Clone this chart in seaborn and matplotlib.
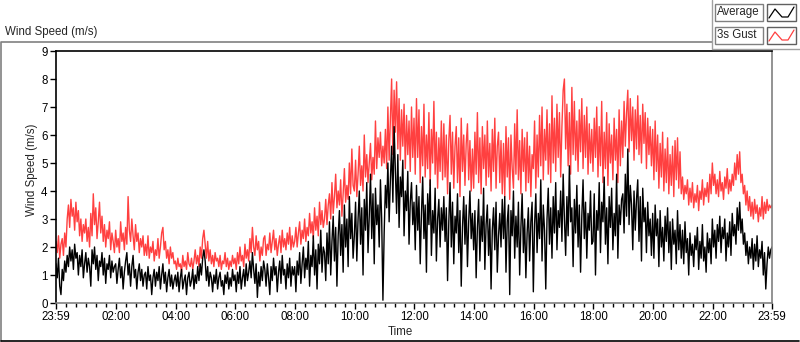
import numpy as np
import pandas as pd
import matplotlib
matplotlib.use("Agg")
import matplotlib.pyplot as plt
from matplotlib.patches import Rectangle
import seaborn as sns

# 2.5-minute samples, one row per hour starting 23:59
gust = [
    2.2, 1.8, 2.4, 1.6, 2.1, 2.3, 1.7, 2.5, 2.0, 3.0, 3.5, 2.7, 3.7, 3.1, 3.4, 2.6, 3.6, 2.9, 3.3, 2.4, 3.0, 2.2, 2.8, 2.5,
    3.0, 2.2, 2.7, 2.0, 3.2, 2.4, 3.9, 2.8, 3.4, 2.3, 2.9, 3.6, 2.5, 3.1, 2.2, 2.8, 2.0, 2.6, 2.3, 2.9, 1.9, 2.5, 2.2, 1.8,
    2.6, 2.0, 2.3, 1.8, 2.9, 2.2, 2.5, 1.9, 2.7, 2.1, 3.8, 2.6, 2.2, 3.0, 2.4, 1.9, 2.8, 2.2, 2.5, 1.8, 2.3, 2.0, 2.4, 1.7,
    2.1, 1.7, 2.4, 1.6, 2.0, 1.8, 2.2, 1.5, 1.9, 1.7, 2.3, 1.6, 2.0, 2.5, 2.7, 1.9, 2.2, 1.6, 1.9, 1.4, 2.0, 1.6, 1.8, 1.4,
    1.5, 1.2, 1.6, 1.3, 1.4, 1.1, 1.7, 1.3, 1.5, 1.2, 1.8, 1.4, 1.3, 1.6, 1.2, 1.5, 1.9, 1.4, 1.7, 1.3, 2.0, 1.6, 2.3, 2.6,
    2.1, 1.6, 2.2, 1.5, 1.9, 1.4, 1.7, 1.3, 1.8, 1.5, 1.6, 1.3, 1.7, 1.2, 1.5, 1.4, 1.8, 1.3, 1.6, 1.2, 1.5, 1.3, 1.7, 1.4,
    1.6, 1.2, 1.8, 1.4, 2.0, 1.5, 1.7, 1.3, 2.1, 1.6, 1.9, 1.5, 2.3, 1.8, 2.7, 2.0, 1.7, 2.4, 1.9, 2.2, 1.5, 2.0, 1.7, 2.3,
    2.4, 1.7, 2.1, 1.9, 2.5, 1.8, 2.2, 2.6, 1.9, 2.3, 1.7, 2.1, 2.4, 1.8, 2.6, 2.0, 2.3, 1.9, 2.5, 2.1, 2.7, 1.9, 2.4, 2.0,
    2.2, 2.7, 2.0, 2.5, 2.9, 2.1, 2.6, 2.3, 3.0, 2.2, 2.7, 2.4, 3.2, 2.5, 2.9, 2.3, 3.4, 2.6, 3.1, 2.4, 3.6, 2.8, 3.3, 2.7,
    3.0, 3.7, 2.8, 3.5, 3.9, 3.0, 4.3, 3.2, 3.8, 4.6, 3.4, 4.0, 3.5, 4.4, 3.1, 3.9, 4.8, 3.6, 4.2, 3.7, 5.0, 3.9, 5.5, 4.2,
    4.0, 5.1, 3.8, 4.6, 5.6, 4.2, 4.9, 4.0, 6.0, 4.5, 5.3, 4.3, 5.0, 5.7, 4.4, 5.2, 4.6, 6.5, 4.8, 5.9, 5.2, 6.1, 4.9, 5.6,
    5.0, 6.2, 4.8, 7.0, 5.1, 6.6, 8.0, 5.3, 7.6, 6.1, 7.9, 5.5, 7.3, 5.1, 6.9, 5.6, 7.1, 4.8, 6.7, 5.3, 6.5, 4.7, 7.0, 5.2,
    6.6, 4.6, 7.3, 5.2, 6.9, 4.3, 6.3, 4.9, 7.1, 4.5, 6.0, 4.8, 6.8, 4.2, 6.2, 5.0, 7.2, 4.6, 6.1, 4.1, 5.9, 4.7, 6.5, 4.4,
    6.4, 4.5, 6.0, 3.9, 5.8, 6.7, 4.6, 6.1, 4.1, 5.6, 6.3, 4.3, 5.9, 3.8, 6.6, 4.7, 6.0, 4.2, 5.7, 6.4, 4.4, 5.8, 4.0, 5.5,
    4.1, 6.1, 4.6, 6.8, 4.3, 5.9, 3.9, 6.3, 4.8, 6.0, 4.2, 6.5, 4.5, 5.7, 4.0, 6.2, 4.7, 6.6, 4.1, 5.6, 6.1, 4.3, 5.8, 3.9,
    5.7, 3.8, 6.3, 4.5, 5.9, 3.7, 6.0, 4.8, 4.1, 6.4, 4.6, 6.9, 4.4, 5.8, 3.9, 6.2, 4.7, 5.9, 4.0, 6.1, 4.3, 5.6, 3.8, 5.3,
    4.8, 6.5, 4.1, 6.0, 4.5, 6.7, 4.9, 7.0, 4.4, 6.2, 5.1, 6.9, 4.6, 6.4, 4.3, 7.4, 5.0, 6.6, 4.7, 7.1, 5.2, 6.8, 4.5, 6.3,
    7.6, 8.0, 5.5, 7.1, 4.9, 6.8, 4.6, 7.7, 5.3, 7.2, 5.1, 6.5, 4.7, 6.9, 5.4, 7.3, 4.8, 6.7, 5.2, 7.0, 4.6, 6.4, 5.0, 6.2,
    4.7, 6.6, 5.2, 7.0, 4.5, 6.3, 4.9, 7.2, 4.3, 6.1, 4.8, 6.8, 4.2, 6.4, 5.0, 6.0, 4.4, 6.6, 5.1, 6.2, 4.3, 6.9, 4.9, 6.5,
    5.2, 7.2, 5.6, 6.8, 7.6, 5.4, 7.3, 5.8, 7.0, 5.1, 6.9, 5.5, 7.4, 5.3, 6.7, 5.0, 7.1, 5.7, 6.8, 4.8, 6.6, 5.3, 6.3, 4.9,
    6.2, 4.4, 6.5, 4.7, 6.0, 4.1, 5.7, 4.5, 6.1, 4.0, 5.5, 4.3, 5.9, 3.9, 5.3, 4.2, 5.6, 3.8, 5.8, 4.4, 5.9, 4.1, 5.4, 3.9,
    4.5, 3.7, 4.2, 3.9, 4.4, 3.5, 4.1, 3.6, 4.3, 3.4, 3.9, 3.6, 4.2, 3.3, 4.0, 3.7, 4.4, 3.5, 4.1, 3.8, 4.3, 3.6, 4.6, 3.9,
    5.0, 4.2, 4.6, 3.9, 4.4, 3.8, 4.7, 4.0, 4.3, 3.7, 4.5, 4.1, 4.8, 3.9, 4.4, 4.0, 4.6, 4.2, 5.0, 4.4, 5.3, 4.6, 5.4, 4.3,
    4.6, 3.9, 4.2, 3.5, 4.0, 3.3, 3.8, 3.1, 3.6, 3.0, 3.7, 3.2, 3.5, 2.9, 3.4, 3.1, 3.8, 3.0, 3.6, 3.2, 3.7, 3.3, 3.5, 3.4,
    3.5,
]

average = [
    1.4, 0.9, 1.6, 0.6, 0.3, 1.2, 0.8, 1.5, 1.1, 1.7, 1.3, 2.0, 1.5, 1.9, 1.2, 2.1, 1.6, 1.8, 1.0, 1.7, 1.3, 1.9, 0.9, 1.4,
    1.8, 1.1, 1.6, 1.3, 0.6, 1.9, 1.4, 2.0, 1.2, 1.7, 0.8, 1.5, 1.3, 1.8, 1.0, 1.6, 0.7, 1.4, 1.2, 1.7, 0.9, 1.5, 1.1, 1.3,
    1.4, 0.7, 1.2, 1.6, 0.9, 1.3, 0.5, 1.1, 1.5, 1.8, 1.0, 1.4, 0.6, 1.3, 1.7, 0.9, 1.2, 0.5, 1.1, 1.4, 0.8, 1.2, 0.6, 1.0,
    1.1, 0.5, 1.3, 0.8, 1.0, 0.3, 0.9, 1.2, 0.6, 1.1, 0.8, 1.3, 0.5, 1.0, 1.4, 0.7, 1.1, 0.4, 0.9, 1.2, 0.6, 1.0, 0.5, 0.8,
    1.0, 0.6, 1.1, 0.4, 0.9, 1.2, 0.5, 0.8, 1.0, 0.3, 0.9, 1.1, 0.6, 0.8, 1.2, 0.5, 1.0, 0.7, 1.3, 0.8, 1.4, 1.0, 1.6, 1.9,
    1.5, 0.8, 1.3, 0.6, 1.1, 0.9, 0.4, 1.0, 0.7, 1.2, 0.5, 0.9, 1.1, 0.6, 0.8, 0.3, 1.0, 0.7, 1.1, 0.5, 0.9, 0.6, 1.2, 0.8,
    1.0, 0.4, 1.1, 0.7, 1.3, 0.5, 0.9, 1.2, 0.6, 1.4, 0.8, 1.1, 1.5, 0.9, 1.8, 1.2, 0.7, 1.4, 0.2, 1.1, 0.6, 1.3, 0.8, 1.5,
    1.2, 0.6, 1.4, 0.9, 0.3, 1.3, 0.8, 1.6, 1.0, 1.3, 0.4, 1.1, 1.5, 0.7, 1.7, 1.0, 1.2, 0.5, 1.4, 0.9, 1.6, 0.6, 1.3, 1.0,
    1.3, 0.4, 1.5, 1.0, 1.8, 0.7, 1.4, 2.0, 0.9, 1.6, 1.2, 2.2, 0.6, 1.7, 1.3, 2.4, 1.0, 1.9, 0.5, 2.1, 1.4, 2.6, 1.1, 2.0,
    1.8, 0.8, 2.5, 1.4, 2.9, 1.0, 2.2, 3.1, 1.5, 2.7, 0.6, 2.4, 3.3, 1.7, 2.8, 1.1, 3.5, 2.0, 3.0, 1.3, 3.8, 2.3, 3.2, 1.6,
    2.4, 3.6, 1.5, 3.0, 4.0, 2.1, 3.4, 1.0, 3.7, 2.6, 4.3, 1.8, 3.1, 4.6, 2.3, 3.9, 1.4, 4.1, 2.8, 3.5, 2.0, 4.4, 3.0, 0.1,
    2.5, 4.2, 3.4, 5.0, 2.9, 4.4, 5.6, 3.6, 6.3, 4.8, 3.2, 5.3, 2.7, 4.5, 3.8, 5.1, 2.4, 4.0, 3.3, 4.7, 2.1, 3.6, 4.3, 2.8,
    3.6, 1.9, 4.2, 2.6, 3.8, 1.4, 3.2, 4.5, 2.3, 3.5, 1.1, 3.9, 2.8, 4.4, 1.7, 3.3, 2.5, 4.1, 1.5, 3.0, 3.7, 2.0, 3.4, 2.6,
    3.8, 2.2, 3.4, 0.8, 2.9, 4.3, 2.0, 3.6, 1.4, 3.1, 2.5, 3.9, 1.8, 3.3, 0.6, 2.7, 3.8, 2.1, 3.5, 1.3, 2.9, 4.0, 2.3, 3.2,
    1.9, 3.3, 0.9, 2.7, 3.7, 1.5, 3.1, 2.2, 4.1, 1.2, 2.8, 3.5, 1.7, 3.0, 0.5, 2.6, 3.4, 1.9, 3.6, 1.1, 2.4, 3.2, 2.0, 3.7,
    2.3, 3.8, 1.1, 2.9, 3.5, 0.3, 3.3, 2.4, 4.0, 1.6, 3.1, 2.0, 3.6, 1.0, 2.7, 3.9, 1.8, 3.0, 0.9, 2.5, 3.4, 1.5, 2.9, 3.6,
    0.4, 2.8, 3.9, 1.8, 3.2, 2.3, 4.4, 1.5, 3.5, 2.6, 0.5, 3.0, 4.1, 2.1, 3.4, 1.6, 3.8, 2.5, 4.3, 1.9, 3.3, 2.7, 4.0, 2.2,
    4.6, 3.0, 1.7, 3.8, 2.4, 4.9, 2.9, 3.4, 1.3, 3.7, 2.5, 4.2, 2.0, 3.5, 1.1, 3.1, 4.4, 2.3, 3.6, 1.6, 3.2, 2.6, 4.0, 2.1,
    2.2, 3.9, 1.0, 3.3, 2.6, 4.3, 1.8, 3.6, 2.9, 4.5, 2.1, 3.4, 1.4, 3.8, 2.7, 4.1, 1.9, 3.2, 2.4, 4.6, 1.6, 3.5, 2.8, 3.7,
    3.9, 2.5, 4.6, 3.1, 5.5, 2.8, 4.2, 3.5, 1.9, 4.0, 2.6, 3.7, 4.4, 2.2, 3.8, 1.5, 4.1, 2.9, 3.4, 1.8, 3.6, 2.4, 3.0, 1.7,
    3.2, 1.6, 3.5, 2.4, 3.0, 1.3, 3.3, 2.0, 2.7, 1.5, 3.1, 2.2, 3.4, 1.8, 2.9, 1.2, 3.0, 2.1, 2.6, 1.4, 3.3, 1.9, 2.8, 1.6,
    2.6, 1.4, 2.9, 1.8, 2.3, 1.0, 2.5, 1.7, 2.1, 1.3, 2.4, 1.9, 2.7, 1.2, 2.2, 1.6, 2.8, 1.5, 2.0, 1.1, 2.5, 1.8, 2.3, 1.4,
    3.0, 2.0, 2.6, 1.6, 2.8, 2.2, 3.1, 1.8, 2.7, 2.3, 3.0, 1.5, 2.5, 2.0, 2.9, 1.7, 3.2, 2.4, 2.8, 2.1, 3.4, 2.6, 3.6, 2.5,
    3.0, 2.1, 2.5, 1.7, 2.2, 1.4, 2.0, 1.6, 2.3, 1.2, 2.1, 1.5, 2.4, 1.3, 1.9, 1.6, 2.2, 1.0, 1.8, 0.5, 1.4, 2.0, 1.6, 1.9,
    2.0,
]

tick_minutes = [0, 121, 241, 361, 481, 601, 721, 841, 961, 1081, 1201, 1321, 1440]
tick_labels = ["23:59", "02:00", "04:00", "06:00", "08:00", "10:00", "12:00",
               "14:00", "16:00", "18:00", "20:00", "22:00", "23:59"]

gust_df = pd.DataFrame({"minute": np.arange(len(gust)) * 2.5, "speed": gust})
avg_df = pd.DataFrame({"minute": np.arange(len(average)) * 2.5, "speed": average})

sns.set_theme(style="white")
plt.rcParams["font.family"] = ["Liberation Sans", "DejaVu Sans"]
FS = 8.3

fig = plt.figure(figsize=(8, 3.42), dpi=100)
ax = fig.add_axes([56 / 800, 39 / 342, 716 / 800, 252 / 342])

sns.lineplot(data=gust_df, x="minute", y="speed", color="#ff4040", lw=1.0, ax=ax)
sns.lineplot(data=avg_df, x="minute", y="speed", color="black", lw=1.0, ax=ax)

ax.set_xlim(0, 1440)
ax.set_ylim(0, 9)
ax.set_yticks(range(10))
ax.set_xticks(tick_minutes)
ax.set_xticklabels(tick_labels)
ax.set_xticks(np.arange(21, 1440, 20), minor=True)
ax.tick_params(axis="both", which="major", direction="out", length=4, width=1,
               labelsize=FS, colors="black", pad=2, bottom=True, left=True)
ax.tick_params(axis="x", which="minor", direction="out", length=3, width=1,
               color="black", bottom=True)
ax.set_xlabel("Time", fontsize=FS)
ax.set_ylabel("Wind Speed (m/s)", fontsize=FS)
ax.xaxis.set_label_coords((400 - 56) / 716, -0.09)
ax.yaxis.set_label_coords(-0.025, 0.53)

for side in ["left", "top"]:
    ax.spines[side].set_color("black")
    ax.spines[side].set_linewidth(1.2)
for side in ["right", "bottom"]:
    ax.spines[side].set_color("#808080")
    ax.spines[side].set_linewidth(1.2)

# overlay for the panel frame and the legend boxes, in pixel coordinates
ov = fig.add_axes([0, 0, 1, 1], zorder=-1)
ov.set_xlim(0, 800)
ov.set_ylim(342, 0)
ov.axis("off")
ov.plot([0.5, 0.5, 712], [341, 42, 42], color="#808080", lw=1.2)
ov.plot([0.5, 799], [340.5, 340.5], color="black", lw=1.2)

ov2 = fig.add_axes([0, 0, 1, 1], zorder=5)
ov2.set_xlim(0, 800)
ov2.set_ylim(342, 0)
ov2.axis("off")
ov2.plot([712, 712, 800], [0, 48.5, 48.5], color="#a0a0a0", lw=1)
fig.text(5 / 800, 1 - 32 / 342, "Wind Speed (m/s)", fontsize=FS, va="center", ha="left")

for y0, label, col in [(4, "Average", "black"), (27, "3s Gust", "#ff4040")]:
    ov2.add_patch(Rectangle((715, y0), 48, 17, facecolor="white", edgecolor="#808080", lw=1))
    ov2.add_patch(Rectangle((767, y0), 29, 17, facecolor="white", edgecolor="#606060", lw=1))
    ov2.text(717, y0 + 8.5, label, fontsize=FS, va="center", ha="left")
    ov2.plot([769, 775, 782, 788, 794], [y0 + 14, y0 + 5, y0 + 13, y0 + 13, y0 + 3],
             color=col, lw=0.9)

fig.savefig("out.png", dpi=100)
